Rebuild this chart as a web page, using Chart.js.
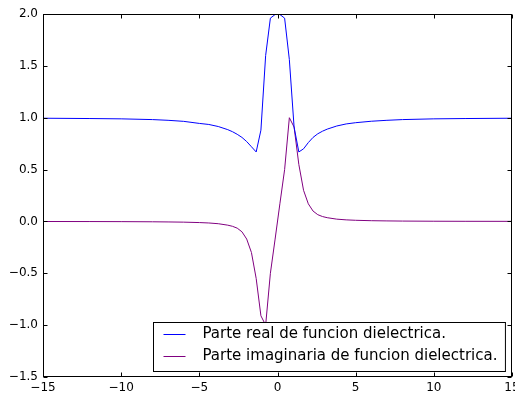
<!DOCTYPE html>
<html>
<head>
<meta charset="utf-8">
<script src="https://cdn.jsdelivr.net/npm/chart.js@4/dist/chart.umd.min.js"></script>
<style>
  html, body { margin: 0; padding: 0; background: #fff; }
  #wrap { width: 515px; height: 395px; }
</style>
</head>
<body>
<div id="wrap"><canvas id="grafica" width="515" height="395"></canvas></div>
<script>
// valores
const xValues = [-15, -12, -10, -8, -7, -6, -5, -4.394, -3.788, -3.182, -2.879, -2.576, -2.273, -1.970, -1.667, -1.364, -1.061, -0.758, -0.455, -0.152,
  0.152, 0.455, 0.758, 1.061, 1.364, 1.667, 1.970, 2.273, 2.576, 2.879, 3.182, 3.788, 4.394, 5, 6, 7, 8, 10, 12, 15];
const realValues = [0.995, 0.992, 0.989, 0.982, 0.975, 0.965, 0.945, 0.935, 0.915, 0.885, 0.865, 0.84, 0.81, 0.77, 0.72, 0.67, 0.88, 1.6, 1.96, 1.995,
  1.995, 1.96, 1.56, 0.91, 0.67, 0.70, 0.76, 0.81, 0.845, 0.87, 0.89, 0.92, 0.94, 0.952, 0.966, 0.975, 0.982, 0.989, 0.992, 0.995];
const imagValues = [-0.0008, -0.0012, -0.002, -0.0035, -0.005, -0.007, -0.011, -0.015, -0.022, -0.036, -0.047, -0.065, -0.10, -0.17, -0.30, -0.55, -0.91, -1.0, -0.5, -0.17,
  0.17, 0.5, 1.0, 0.91, 0.55, 0.30, 0.17, 0.10, 0.065, 0.047, 0.036, 0.022, 0.015, 0.011, 0.007, 0.005, 0.0035, 0.002, 0.0012, 0.0008];
const xTicks = [-15, -10, -5, 0, 5, 10, 15];
const yTicks = [-1.5, -1.0, -0.5, 0.0, 0.5, 1.0, 1.5, 2.0];
const labels = ['Parte real de funcion dielectrica.', 'Parte imaginaria de funcion dielectrica.'];

const font = 'DejaVu Sans';
const menos = (s) => s.replace('-', '\u2212');

// marco, ticks hacia adentro y leyenda estilo matplotlib
const marco = {
  id: 'marco',
  afterDraw(chart) {
    const ctx = chart.ctx;
    const a = chart.chartArea;
    const xs = chart.scales.x, ys = chart.scales.y;
    const L = Math.round(a.left) + 0.5, R = Math.round(a.right) - 0.5;
    const T = Math.round(a.top) + 0.5, B = Math.round(a.bottom) - 0.5;
    ctx.save();
    ctx.strokeStyle = '#000';
    ctx.lineWidth = 1;
    ctx.beginPath();
    xTicks.forEach(v => {
      const px = Math.round(xs.getPixelForValue(v)) + 0.5;
      ctx.moveTo(px, B); ctx.lineTo(px, B - 4);
      ctx.moveTo(px, T); ctx.lineTo(px, T + 4);
    });
    yTicks.forEach(v => {
      const py = Math.round(ys.getPixelForValue(v)) + 0.5;
      ctx.moveTo(L, py); ctx.lineTo(L + 4, py);
      ctx.moveTo(R, py); ctx.lineTo(R - 4, py);
    });
    ctx.stroke();
    ctx.strokeRect(L, T, R - L, B - T);

    // leyenda
    ctx.font = '15px "' + font + '"';
    const textW = Math.max(...labels.map(t => ctx.measureText(t).width));
    const w = 10 + 22 + 17 + textW + 8;
    const h = 49;
    const bx = Math.round(a.right - 7 - w) + 0.5;
    const by = Math.round(a.bottom - 6 - h) + 0.5;
    ctx.fillStyle = '#fff';
    ctx.fillRect(bx, by, w, h);
    ctx.strokeRect(bx, by, w, h);
    ctx.textBaseline = 'middle';
    chart.data.datasets.forEach((ds, i) => {
      const cy = by + 12 + i * 22;
      ctx.strokeStyle = ds.borderColor;
      ctx.beginPath();
      ctx.moveTo(bx + 10, cy); ctx.lineTo(bx + 32, cy);
      ctx.stroke();
      ctx.fillStyle = '#000';
      ctx.fillText(ds.label, bx + 49, cy);
    });
    ctx.restore();
  }
};

new Chart(document.getElementById('grafica'), {
  type: 'line',
  data: {
    datasets: [
      {
        label: labels[0],
        data: xValues.map((x, i) => ({ x: x, y: realValues[i] })),
        borderColor: '#0000ff',
        borderWidth: 1,
        pointRadius: 0,
        tension: 0
      },
      {
        label: labels[1],
        data: xValues.map((x, i) => ({ x: x, y: imagValues[i] })),
        borderColor: '#800080',
        borderWidth: 1,
        pointRadius: 0,
        tension: 0
      }
    ]
  },
  options: {
    responsive: false,
    animation: false,
    layout: { padding: { top: 14, right: 3, left: 0, bottom: 0 } },
    plugins: { legend: { display: false }, tooltip: { enabled: false } },
    scales: {
      x: {
        type: 'linear',
        min: -15,
        max: 15,
        grid: { display: false, drawTicks: false },
        border: { display: false },
        afterBuildTicks: (s) => { s.ticks = xTicks.map(v => ({ value: v })); },
        afterFit: (s) => { s.height = 18; s.paddingLeft = 0; s.paddingRight = 0; },
        ticks: {
          maxRotation: 0,
          autoSkip: false,
          padding: 4,
          color: '#000',
          font: { family: font, size: 12 },
          callback: (v) => menos(String(v))
        }
      },
      y: {
        min: -1.5,
        max: 2.0,
        grid: { display: false, drawTicks: false },
        border: { display: false },
        afterBuildTicks: (s) => { s.ticks = yTicks.map(v => ({ value: v })); },
        afterFit: (s) => { s.width = 43; s.paddingTop = 0; s.paddingBottom = 0; },
        ticks: {
          autoSkip: false,
          padding: 5,
          color: '#000',
          font: { family: font, size: 12 },
          callback: (v) => menos(v.toFixed(1))
        }
      }
    }
  },
  plugins: [marco]
});
</script>
</body>
</html>
